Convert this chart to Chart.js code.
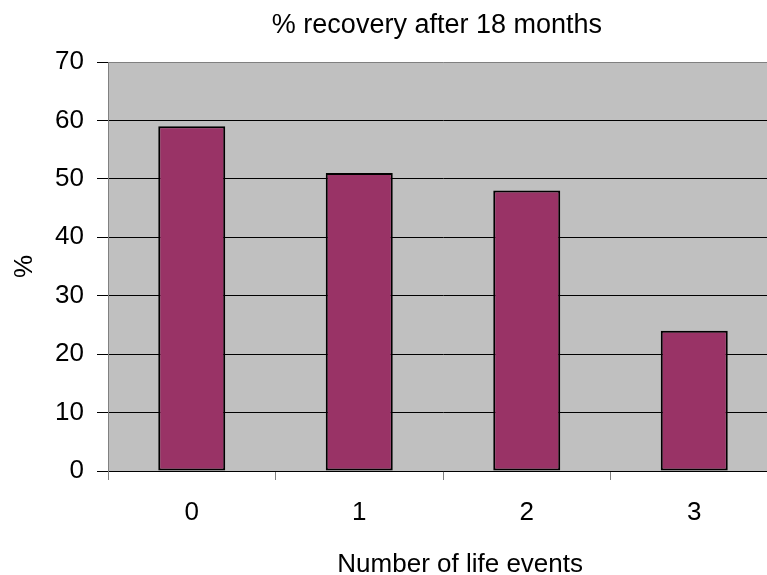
<!DOCTYPE html>
<html>
<head>
<meta charset="utf-8">
<script src="https://cdn.jsdelivr.net/npm/chart.js@4/dist/chart.umd.min.js"></script>
<style>
    html, body { margin: 0; padding: 0; background: #fff; overflow: hidden; }
    #wrap { width: 767px; height: 575px; overflow: hidden; }
</style>
</head>
<body>
<div id="wrap"><canvas id="chart" width="800" height="575"></canvas></div>
<script>
// Chart data
const categories = ['0', '1', '2', '3'];
const recovery = [59, 51, 48, 24];
const yTicks = [0, 10, 20, 30, 40, 50, 60, 70];

const chartTitle = '% recovery after 18 months';
const xTitle = 'Number of life events';
const yTitle = '%';

const FONT = '"Liberation Sans", Arial, sans-serif';

// Grey plot background, chart title and x-axis title
const plotBackground = {
    id: 'plotBackground',
    beforeDraw(chart) {
        const { ctx, chartArea } = chart;
        ctx.save();
        ctx.fillStyle = '#C0C0C0';
        ctx.fillRect(chartArea.left, chartArea.top, chartArea.right - chartArea.left, chartArea.bottom - chartArea.top);
        ctx.restore();
    },
    afterDraw(chart) {
        const { ctx } = chart;
        ctx.save();
        ctx.fillStyle = '#000';
        ctx.textAlign = 'right';
        ctx.textBaseline = 'alphabetic';
        ctx.font = '27px ' + FONT;
        ctx.fillText(chartTitle, 602, 33);
        ctx.font = '26px ' + FONT;
        ctx.fillText(xTitle, 583, 572);
        ctx.restore();
    }
};

const ctx = document.getElementById('chart').getContext('2d');
new Chart(ctx, {
    type: 'bar',
    data: {
        labels: categories,
        datasets: [{
            label: chartTitle,
            data: recovery,
            backgroundColor: '#993366',
            borderColor: '#000',
            borderWidth: 2,
            borderSkipped: false,
            categoryPercentage: 1,
            barPercentage: 0.4
        }]
    },
    options: {
        responsive: false,
        animation: false,
        devicePixelRatio: 1,
        layout: { padding: { top: 62, right: 22, bottom: 0, left: 0 } },
        plugins: {
            legend: { display: false },
            title: { display: false },
            tooltip: { enabled: false }
        },
        scales: {
            x: {
                afterFit: (s) => { s.height = 104; },
                grid: {
                    drawOnChartArea: false,
                    tickLength: 9,
                    color: '#808080',
                    offset: true
                },
                border: { color: '#000', width: 1 },
                ticks: {
                    color: '#000',
                    padding: 17,
                    font: { family: FONT, size: 26 }
                },
                title: { display: false }
            },
            y: {
                min: 0,
                max: 70,
                afterFit: (s) => { s.width = 108; },
                afterBuildTicks: (s) => { s.ticks = yTicks.map(v => ({ value: v })); },
                grid: {
                    color: (c) => c.tick && c.tick.value === 70 ? '#808080' : '#000',
                    tickColor: '#000',
                    tickLength: 11
                },
                border: { color: '#808080', width: 1 },
                ticks: {
                    color: '#000',
                    padding: 13,
                    font: { family: FONT, size: 26 }
                },
                title: {
                    display: true,
                    text: yTitle,
                    color: '#000',
                    font: { family: FONT, size: 26, lineHeight: 1 },
                    padding: { top: 12, bottom: 0 }
                }
            }
        }
    },
    plugins: [plotBackground]
});
</script>
</body>
</html>
